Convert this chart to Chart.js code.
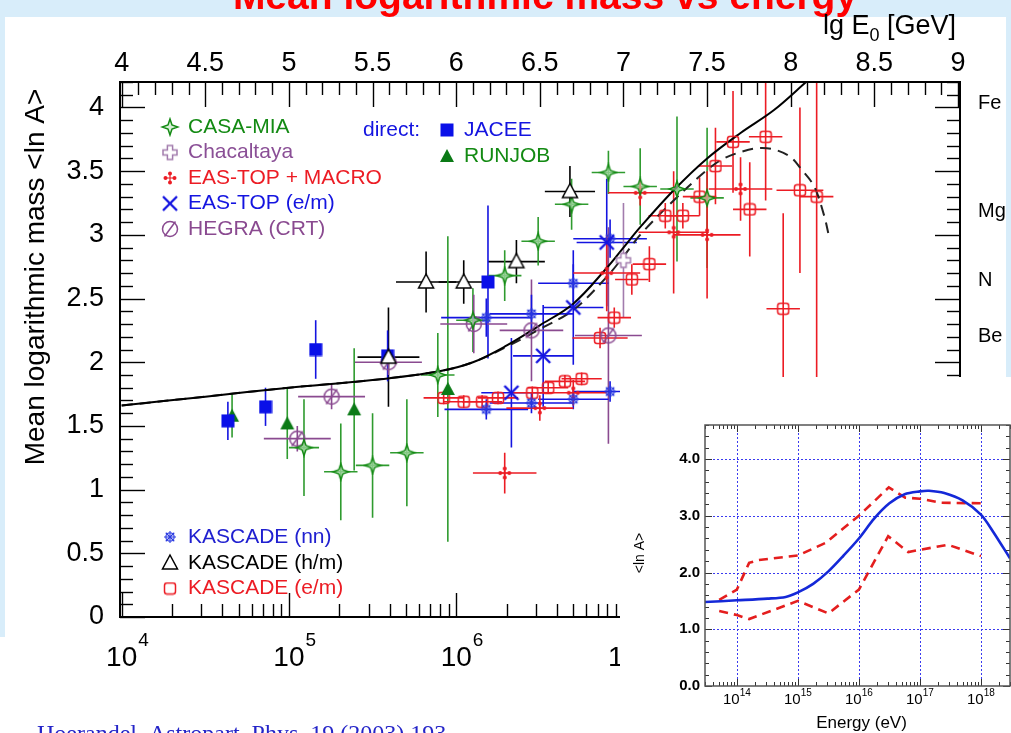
<!DOCTYPE html>
<html>
<head>
<meta charset="utf-8">
<title>Mean logarithmic mass vs energy</title>
<script src="https://cdn.jsdelivr.net/npm/chart.js@4.4.1/dist/chart.umd.min.js"></script>
<style>
  html, body { margin: 0; padding: 0; }
  body { width: 1011px; height: 733px; position: relative; overflow: hidden; background: #fff; }
  #main { position: absolute; left: 0; top: 0; }
  #insetBox { position: absolute; left: 620px; top: 377px; width: 391px; height: 356px; background: #fff; }
</style>
</head>
<body>
<canvas id="main" width="1011" height="733"></canvas>
<div id="insetBox"><canvas id="inset" width="391" height="356"></canvas></div>
<script>
// ---- main panel data: lg E0 [GeV] vs <ln A> ----
const casaLgE  = [5.09, 5.31, 5.50, 5.705, 5.89, 6.10, 6.29, 6.49, 6.69, 6.91, 7.10, 7.32, 7.50];
const casaLnA  = [1.33, 1.14, 1.19, 1.29, 1.90, 2.33, 2.68, 2.95, 3.24, 3.49, 3.38, 3.36, 3.29];
const casaErrX = [0.09, 0.1, 0.1, 0.1, 0.1, 0.1, 0.1, 0.1, 0.1, 0.1, 0.1, 0.1, 0.1];
const casaErrY = [0.38, 0.38, 0.41, 0.42, 0.33, 0.25, 0.2, 0.19, 0.2, 0.17, 0.3, 0.57, 0.55];

const chacLgE  = [7.0];
const chacLnA  = [2.80];
const chacErrY = [0.45];

const macroLgE  = [6.29, 6.50, 6.70, 6.90, 7.10, 7.30, 7.50, 7.70];
const macroLnA  = [1.13, 1.64, 1.76, 2.70, 3.33, 3.02, 3.00, 3.36];
const macroErrX = [0.19, 0.2, 0.2, 0.2, 0.19, 0.21, 0.2, 0.19];
const macroErrY = [0.16, 0.1, 0.1, 0.3, 0.1, 0.48, 0.5, 0.25];

const eastopLgE  = [6.33, 6.52, 6.70, 6.90];
const eastopLnA  = [1.76, 2.05, 2.43, 2.94];
const eastopErrX = [0.18, 0.18, 0.18, 0.18];
const eastopErrY = [0.43, 0.4, 0.45, 0.5];

const hegraLgE  = [5.05, 5.255, 5.595, 6.105, 6.45, 6.91];
const hegraLnA  = [1.40, 1.73, 2.00, 2.30, 2.25, 2.21];
const hegraErrX = [0.2, 0.2, 0.2, 0.2, 0.19, 0.2];
const hegraErrY = [0.1, 0.1, 0.1, 0.23, 0.4, 0.85];

const jaceeLgE  = [4.635, 4.86, 5.16, 5.59, 6.19];
const jaceeLnA  = [1.54, 1.65, 2.10, 2.05, 2.63];
const jaceeErrY = [0.15, 0.15, 0.23, 0.2, 0.6];

const runjobLgE  = [4.66, 4.99, 5.39, 5.95];
const runjobLnA  = [1.58, 1.52, 1.63, 1.79];
const runjobErrY = [0.17, 0.28, 0.48, 1.2];

const nnLgE  = [6.18, 6.45, 6.70, 6.92, 6.18, 6.45, 6.70, 6.92];
const nnLnA  = [2.35, 2.38, 2.62, 2.97, 1.63, 1.68, 1.71, 1.77];
const nnErrX = [0.27, 0.25, 0.21, 0.22, 0.25, 0.25, 0.21, 0.22];
const nnErrY = [0.15, 0.15, 0.15, 0.15, 0.08, 0.08, 0.08, 0.08];

const hmLgE  = [5.595, 5.82, 6.045, 6.36, 6.68];
const hmLnA  = [2.04, 2.63, 2.63, 2.79, 3.34];
const hmErrX = [0.185, 0.18, 0.15, 0.17, 0.15];
const hmErrY = [0.39, 0.24, 0.17, 0.17, 0.2];

const emLgE  = [5.925, 6.045, 6.155, 6.25, 6.455, 6.55, 6.65, 6.75, 6.86, 6.945, 7.05,
                7.155, 7.25, 7.355, 7.455, 7.55, 7.655, 7.755, 7.85, 7.955, 8.055, 8.155];
const emLnA  = [1.72, 1.69, 1.69, 1.72, 1.76, 1.80, 1.85, 1.87, 2.19, 2.35, 2.65,
                2.77, 3.15, 3.15, 3.30, 3.54, 3.73, 3.20, 3.77, 2.42, 3.35, 3.30];
const emErrX = [0.12, 0.12, 0.12, 0.12, 0.12, 0.12, 0.12, 0.12, 0.165, 0.1, 0.1,
                0.1, 0.1, 0.1, 0.1, 0.1, 0.1, 0.1, 0.1, 0.1, 0.14, 0.1];
const emErrY = [0.05, 0.05, 0.05, 0.05, 0.05, 0.05, 0.05, 0.05, 0.08, 0.08, 0.12,
                0.14, 0.1, 0.1, 0.15, 0.3, 0.4, 0.37, 0.5, 0.75, 0.65, 1.5];

// model curves
const curveLgE   = [4.0, 4.5, 5.0, 5.5, 5.9, 6.1, 6.3, 6.5, 6.7, 6.9, 7.0, 7.1, 7.3, 7.5, 7.7, 7.9, 8.1];
const curveLnA   = [1.66, 1.73, 1.80, 1.86, 1.93, 2.00, 2.13, 2.29, 2.46, 2.74, 2.90, 3.06, 3.35, 3.60, 3.80, 3.98, 4.21];
const dashedLgE  = [4.0, 4.5, 5.0, 5.5, 5.9, 6.1, 6.3, 6.5, 6.7, 6.9, 7.0, 7.1, 7.3, 7.5, 7.6, 7.7, 7.8, 7.9, 8.0, 8.06, 8.14, 8.2, 8.23];
const dashedLnA  = [1.66, 1.73, 1.80, 1.86, 1.93, 2.00, 2.12, 2.26, 2.41, 2.67, 2.83, 3.00, 3.27, 3.51, 3.60, 3.65, 3.68, 3.67, 3.61, 3.52, 3.38, 3.15, 2.98];

// axes
const topTicks    = [4, 4.5, 5, 5.5, 6, 6.5, 7, 7.5, 8, 8.5, 9];
const leftTicks   = [0, 0.5, 1, 1.5, 2, 2.5, 3, 3.5, 4];
const bottomExps  = [4, 5, 6, 7];
const elements    = ['Fe', 'Mg', 'N', 'Be'];
const elementLnA  = [4.03, 3.18, 2.64, 2.20];

// ---- inset data: energy (lg eV) vs <ln A> ----
const insetBlueLg   = [13.477, 14, 14.5, 14.8, 15, 15.25, 15.5, 15.75, 16, 16.25, 16.5, 16.75, 17, 17.15, 17.4, 17.7, 18, 18.2, 18.477];
const insetBlueLnA  = [1.48, 1.51, 1.54, 1.57, 1.65, 1.80, 2.02, 2.30, 2.60, 2.95, 3.22, 3.38, 3.43, 3.44, 3.40, 3.27, 3.02, 2.72, 2.25];
const insetUpperLg  = [13.71, 14, 14.2, 14.36, 15, 15.45, 16, 16.49, 16.76, 17, 17.35, 18];
const insetUpperLnA = [1.52, 1.70, 2.17, 2.22, 2.30, 2.52, 3.0, 3.50, 3.32, 3.30, 3.23, 3.22];
const insetLowerLg  = [13.71, 14, 14.2, 15, 15.5, 16, 16.48, 16.81, 17, 17.46, 18];
const insetLowerLnA = [1.32, 1.25, 1.18, 1.50, 1.28, 1.70, 2.64, 2.36, 2.40, 2.49, 2.29];
const insetYTicks   = [0, 1, 2, 3, 4];
const insetDecades  = [14, 15, 16, 17, 18];

const FONT = '"Liberation Sans", Arial, Helvetica, sans-serif';
const GREEN = '#138a13', GREEN_BAR = '#2f9b2f', BLUE = '#1414e0', RED = '#ec1c24';
const PURPLE = '#8a4a90', LILAC = '#a27cad', SKY = '#d8edfa';

function pts(xs, ys) { return xs.map((x, i) => ({ x: x, y: ys[i] })); }

// small canvases used as point styles
function marker(size, draw) {
    const c = document.createElement('canvas');
    c.width = size; c.height = size;
    const g = c.getContext('2d');
    g.translate(size / 2, size / 2);
    draw(g);
    return c;
}

const mkCasa = marker(20, g => {
    const r = 8, q = 2;
    g.beginPath();
    g.moveTo(0, -r); g.lineTo(q, -q); g.lineTo(r, 0); g.lineTo(q, q);
    g.lineTo(0, r); g.lineTo(-q, q); g.lineTo(-r, 0); g.lineTo(-q, -q); g.closePath();
    g.fillStyle = 'rgba(190,230,190,0.6)'; g.fill();
    g.strokeStyle = GREEN; g.lineWidth = 1.5; g.stroke();
});
const mkChac = marker(18, g => {
    const r = 7, a = 2.6;
    g.beginPath();
    g.moveTo(-a, -r); g.lineTo(a, -r); g.lineTo(a, -a); g.lineTo(r, -a); g.lineTo(r, a); g.lineTo(a, a);
    g.lineTo(a, r); g.lineTo(-a, r); g.lineTo(-a, a); g.lineTo(-r, a); g.lineTo(-r, -a); g.lineTo(-a, -a); g.closePath();
    g.fillStyle = '#fff'; g.fill();
    g.strokeStyle = LILAC; g.lineWidth = 1.5; g.stroke();
});
const mkMacro = marker(16, g => {
    g.strokeStyle = RED; g.lineWidth = 1.2;
    g.beginPath(); g.moveTo(-6, 0); g.lineTo(6, 0); g.moveTo(0, -6); g.lineTo(0, 6); g.stroke();
    g.fillStyle = RED;
    [[0, -4.5], [0, 4.5], [-4.5, 0], [4.5, 0]].forEach(p => { g.beginPath(); g.arc(p[0], p[1], 2, 0, 7); g.fill(); });
});
const mkEastop = marker(18, g => {
    g.strokeStyle = BLUE; g.lineWidth = 2.4;
    g.beginPath(); g.moveTo(-7, -7); g.lineTo(7, 7); g.moveTo(-7, 7); g.lineTo(7, -7); g.stroke();
});
const mkHegra = marker(22, g => {
    g.strokeStyle = PURPLE; g.lineWidth = 1.5;
    g.beginPath(); g.arc(0, 0, 7.5, 0, 7); g.stroke();
    g.beginPath(); g.moveTo(-5.5, 7.5); g.lineTo(5.5, -7.5); g.stroke();
});
const mkJacee = marker(14, g => { g.fillStyle = '#0a10e8'; g.fillRect(-6.5, -6.5, 13, 13); });
const mkRunjob = marker(16, g => {
    g.fillStyle = '#0b7a16';
    g.beginPath(); g.moveTo(0, -7); g.lineTo(7, 6); g.lineTo(-7, 6); g.closePath(); g.fill();
});
const mkNn = marker(16, g => {
    g.strokeStyle = '#2a3ae0'; g.lineWidth = 1.1;
    for (let k = 0; k < 4; k++) {
        g.save(); g.rotate(k * Math.PI / 4);
        g.beginPath(); g.moveTo(-6, 0); g.lineTo(6, 0);
        g.moveTo(4, -1.8); g.lineTo(4, 1.8); g.moveTo(-4, -1.8); g.lineTo(-4, 1.8);
        g.stroke(); g.restore();
    }
});
const mkHm = marker(20, g => {
    g.beginPath(); g.moveTo(0, -8); g.lineTo(7.5, 6); g.lineTo(-7.5, 6); g.closePath();
    g.fillStyle = '#fff'; g.fill();
    g.strokeStyle = '#000'; g.lineWidth = 1.5; g.stroke();
});
const mkEm = marker(14, g => {
    g.strokeStyle = RED; g.lineWidth = 1.5;
    g.beginPath(); g.roundRect(-5.5, -5.5, 11, 11, 2.5); g.stroke();
});

function series(label, xs, ys, style, barColor, ex, ey) {
    return { label: label, data: pts(xs, ys), pointStyle: style, barColor: barColor,
             errX: ex || null, errY: ey || null, showLine: false };
}

const errorBars = {
    id: 'errorBars',
    beforeDatasetsDraw(chart) {
        const ctx = chart.ctx, a = chart.chartArea, x = chart.scales.x, y = chart.scales.y;
        ctx.save();
        ctx.beginPath(); ctx.rect(a.left, a.top, a.right - a.left, a.bottom - a.top); ctx.clip();
        chart.data.datasets.forEach(ds => {
            if (!ds.errX && !ds.errY) return;
            ctx.strokeStyle = ds.barColor; ctx.lineWidth = 1.6;
            ds.data.forEach((p, j) => {
                const px = x.getPixelForValue(p.x), py = y.getPixelForValue(p.y);
                const ex = ds.errX ? ds.errX[j] : 0, ey = ds.errY ? ds.errY[j] : 0;
                ctx.beginPath();
                if (ex) { ctx.moveTo(x.getPixelForValue(p.x - ex), py); ctx.lineTo(x.getPixelForValue(p.x + ex), py); }
                if (ey) { ctx.moveTo(px, y.getPixelForValue(p.y - ey)); ctx.lineTo(px, y.getPixelForValue(p.y + ey)); }
                ctx.stroke();
            });
        });
        ctx.restore();
    }
};

function line(ctx, x1, y1, x2, y2) { ctx.beginPath(); ctx.moveTo(x1, y1); ctx.lineTo(x2, y2); ctx.stroke(); }

// page background, title, citation, frame, ticks, labels, legend
const decor = {
    id: 'decor',
    beforeDraw(chart) {
        const ctx = chart.ctx;
        ctx.save();
        ctx.fillStyle = '#fff'; ctx.fillRect(0, 0, 1011, 733);
        ctx.fillStyle = SKY;
        ctx.fillRect(0, 0, 1011, 17);
        ctx.fillRect(0, 0, 5, 637);
        ctx.fillRect(1006, 0, 5, 400);
        ctx.fillStyle = '#ff0000';
        ctx.font = 'bold 39px ' + FONT;
        ctx.textAlign = 'center'; ctx.textBaseline = 'alphabetic';
        ctx.fillText('Mean logarithmic mass vs energy', 545, 9);
        ctx.fillStyle = '#2424c8';
        ctx.font = '24px "Liberation Serif", "Times New Roman", serif';
        ctx.textAlign = 'left';
        ctx.fillText('Hoerandel, Astropart. Phys. 19 (2003) 193', 37, 741);
        ctx.restore();
    },
    afterDatasetsDraw(chart) {
        const ctx = chart.ctx, a = chart.chartArea, xs = chart.scales.x, ys = chart.scales.y;
        ctx.save();
        ctx.strokeStyle = '#000'; ctx.lineWidth = 1.4;
        // top ticks every 0.1, long at 0.5
        for (let i = 40; i <= 90; i++) {
            const px = Math.round(xs.getPixelForValue(i / 10)) + 0.5;
            line(ctx, px, a.top, px, a.top + (i % 5 === 0 ? 25 : 13));
        }
        // bottom log ticks
        bottomExps.forEach(d => {
            for (let k = 1; k <= 9; k++) {
                const v = d + Math.log10(k);
                if (v > 9) break;
                const px = Math.round(xs.getPixelForValue(v)) + 0.5;
                line(ctx, px, a.bottom, px, a.bottom - (k === 1 ? 24 : 13));
            }
        });
        // left / right ticks
        for (let i = 0; i <= 42; i++) {
            const py = Math.round(ys.getPixelForValue(i / 10)) + 0.5;
            const len = i % 5 === 0 ? 25 : 13;
            line(ctx, a.left, py, a.left + len, py);
            line(ctx, a.right, py, a.right - len, py);
        }
        ctx.lineWidth = 2;
        ctx.strokeRect(a.left, a.top, a.right - a.left, a.bottom - a.top);

        ctx.fillStyle = '#000';
        ctx.font = '27px ' + FONT;
        ctx.textBaseline = 'middle';
        ctx.textAlign = 'center';
        topTicks.forEach(v => ctx.fillText(String(v), xs.getPixelForValue(v), 64));
        ctx.textAlign = 'right';
        leftTicks.forEach(v => ctx.fillText(String(v), 104, ys.getPixelForValue(v)));
        // bottom 10^n labels
        bottomExps.forEach(d => {
            const px = xs.getPixelForValue(d);
            ctx.font = '28px ' + FONT; ctx.textAlign = 'center';
            ctx.fillText('10', px, 658);
            const w = ctx.measureText('10').width;
            ctx.font = '19px ' + FONT; ctx.textAlign = 'left';
            ctx.fillText(String(d), px + w / 2 + 1, 641);
        });
        // lg E0 [GeV]
        ctx.textAlign = 'left';
        ctx.font = '27px ' + FONT;
        let tx = 823;
        ctx.fillText('lg E', tx, 27); tx += ctx.measureText('lg E').width;
        ctx.font = '18px ' + FONT; ctx.fillText('0', tx, 36); tx += ctx.measureText('0').width;
        ctx.font = '27px ' + FONT; ctx.fillText(' [GeV]', tx, 27);
        // element labels
        ctx.font = '20px ' + FONT;
        elements.forEach((e, i) => ctx.fillText(e, 978, ys.getPixelForValue(elementLnA[i])));
        // y title
        ctx.save();
        ctx.translate(36, 277); ctx.rotate(-Math.PI / 2);
        ctx.textAlign = 'center'; ctx.font = '28px ' + FONT;
        ctx.fillText('Mean logarithmic mass <ln A>', 0, 0);
        ctx.restore();

        // legends
        ctx.font = '21px ' + FONT; ctx.textAlign = 'left';
        const leg = [
            [mkCasa, GREEN, 'CASA-MIA', 127],
            [mkChac, '#8a4f96', 'Chacaltaya', 152.5],
            [mkMacro, RED, 'EAS-TOP + MACRO', 178],
            [mkEastop, BLUE, 'EAS-TOP (e/m)', 203.5],
            [mkHegra, PURPLE, 'HEGRA (CRT)', 229],
            [mkNn, '#2020d0', 'KASCADE (nn)', 537],
            [mkHm, '#000', 'KASCADE (h/m)', 563],
            [mkEm, RED, 'KASCADE (e/m)', 588.5]
        ];
        leg.forEach(l => {
            ctx.drawImage(l[0], 170 - l[0].width / 2, l[3] - l[0].height / 2);
            ctx.fillStyle = l[1]; ctx.fillText(l[2], 188, l[3]);
        });
        ctx.fillStyle = BLUE; ctx.fillText('direct:', 363, 130);
        ctx.drawImage(mkJacee, 447 - 7, 130 - 7);
        ctx.fillText('JACEE', 464, 130);
        ctx.drawImage(mkRunjob, 447 - 8, 156 - 8);
        ctx.fillStyle = GREEN; ctx.fillText('RUNJOB', 464, 156);
        ctx.restore();
    }
};

new Chart(document.getElementById('main').getContext('2d'), {
    type: 'scatter',
    data: {
        datasets: [
            series('KASCADE (h/m)', hmLgE, hmLnA, mkHm, '#000', hmErrX, hmErrY),
            series('JACEE', jaceeLgE, jaceeLnA, mkJacee, BLUE, null, jaceeErrY),
            series('RUNJOB', runjobLgE, runjobLnA, mkRunjob, GREEN_BAR, null, runjobErrY),
            series('EAS-TOP (e/m)', eastopLgE, eastopLnA, mkEastop, BLUE, eastopErrX, eastopErrY),
            series('Chacaltaya', chacLgE, chacLnA, mkChac, LILAC, null, chacErrY),
            series('CASA-MIA', casaLgE, casaLnA, mkCasa, GREEN_BAR, casaErrX, casaErrY),
            series('HEGRA (CRT)', hegraLgE, hegraLnA, mkHegra, PURPLE, hegraErrX, hegraErrY),
            series('KASCADE (nn)', nnLgE, nnLnA, mkNn, BLUE, nnErrX, nnErrY),
            series('EAS-TOP + MACRO', macroLgE, macroLnA, mkMacro, RED, macroErrX, macroErrY),
            series('KASCADE (e/m)', emLgE, emLnA, mkEm, RED, emErrX, emErrY),
            { label: 'model', data: pts(curveLgE, curveLnA), showLine: true, pointRadius: 0,
              borderColor: '#000', borderWidth: 2, tension: 0.35 },
            { label: 'model 2', data: pts(dashedLgE, dashedLnA), showLine: true, pointRadius: 0,
              borderColor: '#222', borderWidth: 2, borderDash: [11, 7], tension: 0.35 }
        ]
    },
    options: {
        responsive: false,
        animation: false,
        devicePixelRatio: 1,
        layout: { padding: { left: 120, top: 82, right: 51, bottom: 116 } },
        scales: {
            x: { type: 'linear', min: 3.99, max: 9.012, display: false },
            y: { type: 'linear', min: 0, max: 4.2, display: false }
        },
        plugins: { legend: { display: false }, tooltip: { enabled: false } }
    },
    plugins: [errorBars, decor]
});

// ---- inset ----
const insetDecor = {
    id: 'insetDecor',
    beforeDatasetsDraw(chart) {
        const ctx = chart.ctx, a = chart.chartArea, xs = chart.scales.x, ys = chart.scales.y;
        ctx.save();
        ctx.strokeStyle = '#3a3af0'; ctx.lineWidth = 1; ctx.setLineDash([2, 2]);
        insetYTicks.forEach(v => {
            if (v === 0) return;
            const py = Math.round(ys.getPixelForValue(v)) + 0.5;
            line(ctx, a.left, py, a.right, py);
        });
        insetDecades.forEach(d => {
            const px = Math.round(xs.getPixelForValue(Math.pow(10, d))) + 0.5;
            line(ctx, px, a.top, px, a.bottom);
        });
        ctx.restore();
    },
    afterDatasetsDraw(chart) {
        const ctx = chart.ctx, a = chart.chartArea, xs = chart.scales.x, ys = chart.scales.y;
        ctx.save();
        ctx.strokeStyle = '#333'; ctx.lineWidth = 1;
        for (let i = 0; i <= 23; i++) {
            const py = Math.round(ys.getPixelForValue(i / 5)) + 0.5;
            const len = i % 5 === 0 ? 7 : 4;
            line(ctx, a.left, py, a.left + len, py);
            line(ctx, a.right, py, a.right - len, py);
        }
        for (let d = 13; d <= 18; d++) {
            for (let k = 1; k <= 9; k++) {
                const v = k * Math.pow(10, d);
                if (v < xs.min || v > xs.max) continue;
                const px = Math.round(xs.getPixelForValue(v)) + 0.5;
                const len = k === 1 ? 7 : 4;
                line(ctx, px, a.bottom, px, a.bottom - len);
                line(ctx, px, a.top, px, a.top + len);
            }
        }
        ctx.lineWidth = 1.5; ctx.strokeStyle = '#555';
        ctx.strokeRect(a.left, a.top, a.right - a.left, a.bottom - a.top);

        ctx.fillStyle = '#000';
        ctx.font = 'bold 15px ' + FONT; ctx.textAlign = 'right'; ctx.textBaseline = 'middle';
        insetYTicks.forEach(v => ctx.fillText(v.toFixed(1), a.left - 5, ys.getPixelForValue(v)));
        insetDecades.forEach(d => {
            const px = xs.getPixelForValue(Math.pow(10, d));
            ctx.font = '15px ' + FONT;
            const w1 = ctx.measureText('10').width;
            ctx.font = '10px ' + FONT;
            const w2 = ctx.measureText(String(d)).width;
            const x0 = px - (w1 + w2) / 2;
            ctx.textAlign = 'left';
            ctx.font = '15px ' + FONT; ctx.fillText('10', x0, a.bottom + 14);
            ctx.font = '10px ' + FONT; ctx.fillText(String(d), x0 + w1, a.bottom + 7);
        });
        ctx.textAlign = 'center';
        ctx.font = '17px ' + FONT;
        ctx.fillText('Energy (eV)', (a.left + a.right) / 2 + 4, 346);
        ctx.save();
        ctx.translate(20, 176); ctx.rotate(-Math.PI / 2);
        ctx.font = '14px ' + FONT;
        ctx.fillText('<ln A>', 0, 0);
        ctx.restore();
        ctx.restore();
    }
};

function ePts(lgs, ys) { return lgs.map((l, i) => ({ x: Math.pow(10, l), y: ys[i] })); }

new Chart(document.getElementById('inset').getContext('2d'), {
    type: 'scatter',
    data: {
        datasets: [
            { label: 'model', data: ePts(insetBlueLg, insetBlueLnA), showLine: true, pointRadius: 0,
              borderColor: '#1428d8', borderWidth: 2.6, tension: 0.3 },
            { label: 'upper', data: ePts(insetUpperLg, insetUpperLnA), showLine: true, pointRadius: 0,
              borderColor: '#e41e1e', borderWidth: 2.6, borderDash: [9, 6] },
            { label: 'lower', data: ePts(insetLowerLg, insetLowerLnA), showLine: true, pointRadius: 0,
              borderColor: '#e41e1e', borderWidth: 2.6, borderDash: [9, 6] }
        ]
    },
    options: {
        responsive: false,
        animation: false,
        devicePixelRatio: 1,
        layout: { padding: { left: 85, top: 48, right: 1, bottom: 47 } },
        scales: {
            x: { type: 'logarithmic', min: 3e13, max: 3e18, display: false },
            y: { type: 'linear', min: 0, max: 4.6, display: false }
        },
        plugins: { legend: { display: false }, tooltip: { enabled: false } }
    },
    plugins: [insetDecor]
});
</script>
</body>
</html>
